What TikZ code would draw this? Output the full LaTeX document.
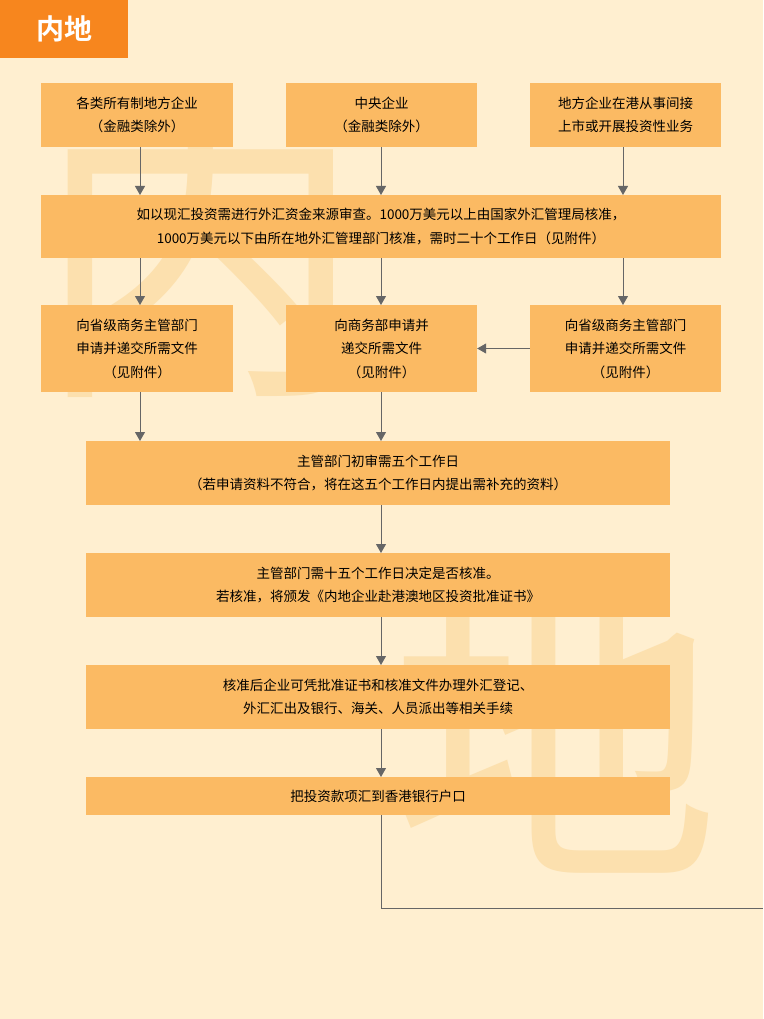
\documentclass[tikz,border=0pt]{standalone}
\usepackage{fontspec}
\setmainfont{Liberation Sans}
\newfontfamily\cjk{Noto Sans CJK SC}
\newfontfamily\cjkb{Noto Sans CJK SC Bold}
\usetikzlibrary{arrows.meta}
\definecolor{bg}{HTML}{FFEFD0}
\definecolor{boxc}{HTML}{FBBA63}
\definecolor{wm}{HTML}{FCE0AE}
\definecolor{tab}{HTML}{F7861E}
\definecolor{ln}{HTML}{666666}
\tikzset{
 bx/.style={fill=boxc,draw=none,inner sep=0pt,align=center,font=\cjk\fontsize{13.5}{23.5}\selectfont,text=black},
 ar/.style={draw=ln,line width=1pt,-{Triangle[length=9pt,width=10pt]}},
 pl/.style={draw=ln,line width=1pt}
}
\begin{document}
\begin{tikzpicture}[x=1pt,y=-1pt]
\fill[bg] (0,0) rectangle (763,1019);
\useasboundingbox (0,0) rectangle (763,1019);
\node[text=wm,font=\cjk\fontsize{330}{330}\selectfont] (w1) at (200,245) {内};
\node[text=wm,font=\cjk\fontsize{330}{330}\selectfont] (w2) at (555,725) {地};
\fill[tab] (0,0) rectangle (128,58);
\node[text=white,font=\cjkb\fontsize{28}{28}\selectfont] (t) at (64,29) {内地};
\node[bx,minimum width=192,minimum height=64] (b1) at (137,115) {各类所有制地方企业\\（金融类除外）};
\node[bx,minimum width=191,minimum height=64] (b2) at (381.5,115) {中央企业\\（金融类除外）};
\node[bx,minimum width=191,minimum height=64] (b3) at (625.5,115) {地方企业在港从事间接\\上市或开展投资性业务};
\node[bx,minimum width=680,minimum height=63] (b4) at (381,226.5) {如以现汇投资需进行外汇资金来源审查。1000万美元以上由国家外汇管理局核准，\\1000万美元以下由所在地外汇管理部门核准，需时二十个工作日（见附件）};
\node[bx,minimum width=192,minimum height=87] (b5) at (137,348.5) {向省级商务主管部门\\申请并递交所需文件\\（见附件）};
\node[bx,minimum width=191,minimum height=87] (b6) at (381.5,348.5) {向商务部申请并\\递交所需文件\\（见附件）};
\node[bx,minimum width=191,minimum height=87] (b7) at (625.5,348.5) {向省级商务主管部门\\申请并递交所需文件\\（见附件）};
\node[bx,minimum width=584,minimum height=64] (b8) at (378,473) {主管部门初审需五个工作日\\（若申请资料不符合，将在这五个工作日内提出需补充的资料）};
\node[bx,minimum width=584,minimum height=64] (b9) at (378,585) {主管部门需十五个工作日决定是否核准。\\若核准，将颁发《内地企业赴港澳地区投资批准证书》};
\node[bx,minimum width=584,minimum height=64] (b10) at (378,697) {核准后企业可凭批准证书和核准文件办理外汇登记、\\外汇汇出及银行、海关、人员派出等相关手续};
\node[bx,minimum width=584,minimum height=38] (b11) at (378,796) {把投资款项汇到香港银行户口};
\coordinate (c1) at (381,908);
\coordinate (c2) at (763,908);
\draw[ar] (b1.south -| 140,0) -- (140,195);
\draw[ar] (b2.south -| 381,0) -- (381,195);
\draw[ar] (b3.south -| 623,0) -- (623,195);
\draw[ar] (b4.south -| 140,0) -- (140,305);
\draw[ar] (b4.south -| 381,0) -- (381,305);
\draw[ar] (b4.south -| 623,0) -- (623,305);
\draw[ar] (b7.west) -- (b6.east);
\draw[ar] (b5.south -| 140,0) -- (140,441);
\draw[ar] (b6.south -| 381,0) -- (381,441);
\draw[ar] (b8.south -| 381,0) -- (381,553);
\draw[ar] (b9.south -| 381,0) -- (381,665);
\draw[ar] (b10.south -| 381,0) -- (381,777);
\draw[pl] (b11.south -| 381,0) -- (c1) -- (c2);
\end{tikzpicture}
\end{document}
